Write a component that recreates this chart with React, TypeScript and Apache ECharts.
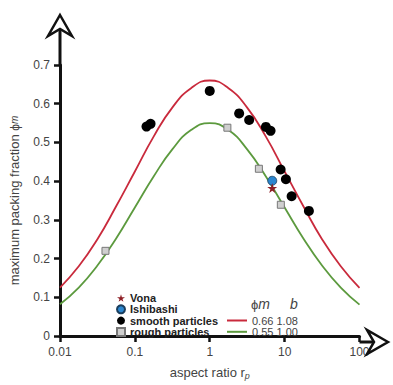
import React, { useEffect, useRef } from "react";
import * as echarts from "echarts";

// Measured maximum packing fraction against aspect ratio
const smoothParticles: [number, number][] = [
  [0.143, 0.541], [0.162, 0.548], [1.0, 0.633], [2.47, 0.575], [3.36, 0.558],
  [5.62, 0.54], [6.49, 0.53], [8.84, 0.43], [10.4, 0.405], [12.4, 0.361], [21.1, 0.323],
];
const roughParticles: [number, number][] = [
  [0.0405, 0.22], [1.72, 0.538], [4.53, 0.432], [8.9, 0.339],
];
const ishibashi: [number, number][] = [[6.83, 0.401]];
const vona: [number, number][] = [[6.83, 0.382]];

// Fitted curves sampled along the aspect ratio (quarter decades)
const fitRatios = [
  0.01, 0.0178, 0.0316, 0.0562, 0.1, 0.178, 0.316, 0.562, 1,
  1.78, 3.16, 5.62, 10, 17.8, 31.6, 56.2, 100,
];
const smoothFit = [
  0.125, 0.18, 0.25, 0.335, 0.425, 0.515, 0.59, 0.64, 0.66,
  0.64, 0.59, 0.515, 0.425, 0.335, 0.25, 0.18, 0.124,
];
const roughFit = [
  0.082, 0.125, 0.182, 0.252, 0.332, 0.412, 0.482, 0.532, 0.55,
  0.532, 0.482, 0.412, 0.332, 0.252, 0.182, 0.125, 0.081,
];
const fitParams: Record<string, string> = {
  "smooth fit": "0.66 1.08",
  "rough fit": "0.55 1.00",
};

const xTickLabels = ["0.01", "0.1", "1", "10", "100"];

// Plot frame in pixels
const LEFT = 60;
const RIGHT = 359.5;
const TOP = 65;
const BOTTOM = 342;
const W = 393;
const H = 385;

const RED = "#c92a3c";
const GREEN = "#5c9a3e";
const INK = "#111";
const LABEL = "#444";

export default function App() {
  const ref = useRef<HTMLDivElement>(null);

  useEffect(() => {
    if (!ref.current) return;
    const chart = echarts.init(ref.current, undefined, { renderer: "svg" });

    const pair = (xs: number[], ys: number[]) => xs.map((x, i) => [x, ys[i]]);

    chart.setOption({
      animation: false,
      backgroundColor: "#fff",
      textStyle: { fontFamily: "Liberation Sans, Arial, sans-serif" },
      grid: { left: LEFT, right: W - RIGHT, top: TOP, bottom: H - BOTTOM },
      xAxis: {
        type: "log",
        logBase: 10,
        min: 0.01,
        max: 100,
        name: "{t|aspect ratio r}{s|p}",
        nameLocation: "middle",
        nameGap: 29,
        nameTextStyle: {
          rich: {
            t: { fontSize: 13, color: LABEL },
            s: { fontSize: 9, color: LABEL, fontStyle: "italic", padding: [6, 0, 0, 0] },
          },
        },
        axisLine: { lineStyle: { color: INK, width: 3 } },
        axisTick: { length: 6, lineStyle: { color: INK, width: 2.5 } },
        axisLabel: {
          color: LABEL,
          fontSize: 12,
          margin: 10,
          formatter: (v: number) => {
            const s = String(Number(v.toPrecision(3)));
            return xTickLabels.includes(s) ? s : "";
          },
        },
        splitLine: { show: false },
        minorTick: { show: false },
      },
      yAxis: {
        type: "value",
        min: 0,
        max: 0.7,
        interval: 0.1,
        name: "{t|maximum packing fraction }{p|ϕ}{s|m}",
        nameLocation: "middle",
        nameGap: 39,
        nameRotate: 90,
        nameTextStyle: {
          rich: {
            t: { fontSize: 13, color: LABEL },
            p: { fontSize: 12, color: LABEL },
            s: { fontSize: 10, color: LABEL, fontStyle: "italic" },
          },
        },
        axisLine: { lineStyle: { color: INK, width: 3 } },
        axisTick: { length: 6, lineStyle: { color: INK, width: 2.5 } },
        axisLabel: {
          color: LABEL,
          fontSize: 12,
          margin: 10,
          formatter: (v: number) => (v === 0 ? "0" : v.toFixed(1)),
        },
        splitLine: { show: false },
      },
      legend: [
        {
          orient: "vertical",
          left: 116,
          top: 292.5,
          itemGap: 0.3,
          itemWidth: 8,
          itemHeight: 8,
          padding: 0,
          data: ["Vona", "Ishibashi", "smooth particles", "rough particles"],
          textStyle: { fontSize: 11, fontWeight: "bold", color: "#222", lineHeight: 11 },
        },
        {
          orient: "vertical",
          left: 227,
          top: 315,
          itemGap: 0.3,
          itemWidth: 20,
          itemHeight: 2,
          icon: "rect",
          padding: 0,
          data: ["smooth fit", "rough fit"],
          formatter: (name: string) => fitParams[name],
          textStyle: { fontSize: 11, color: LABEL, lineHeight: 11 },
        },
      ],
      series: [
        {
          name: "smooth fit",
          type: "line",
          data: pair(fitRatios, smoothFit),
          smooth: true,
          showSymbol: false,
          lineStyle: { color: RED, width: 1.8 },
          itemStyle: { color: RED },
          z: 2,
        },
        {
          name: "rough fit",
          type: "line",
          data: pair(fitRatios, roughFit),
          smooth: true,
          showSymbol: false,
          lineStyle: { color: GREEN, width: 1.8 },
          itemStyle: { color: GREEN },
          z: 2,
        },
        {
          name: "smooth particles",
          type: "scatter",
          data: smoothParticles,
          symbol: "circle",
          symbolSize: 10,
          itemStyle: { color: "#000", opacity: 1 },
          z: 3,
        },
        {
          name: "rough particles",
          type: "scatter",
          data: roughParticles,
          symbol: "rect",
          symbolSize: 7,
          itemStyle: { color: "#cfcfcf", borderColor: "#777", borderWidth: 1, opacity: 1 },
          z: 3,
        },
        {
          name: "Ishibashi",
          type: "scatter",
          data: ishibashi,
          symbol: "circle",
          symbolSize: 9,
          itemStyle: { color: "#2b86cf", borderColor: "#1a3d5c", borderWidth: 0.8, opacity: 1 },
          z: 4,
        },
        {
          name: "Vona",
          type: "scatter",
          data: vona,
          symbol:
            "path://M50,0 L61,35 L98,35 L68,57 L79,91 L50,70 L21,91 L32,57 L2,35 L39,35 Z",
          symbolSize: 10,
          itemStyle: { color: "#8e1f25", opacity: 1 },
          z: 4,
        },
      ],
      graphic: [
        // axis extensions up to the open arrowheads
        {
          type: "line",
          shape: { x1: RIGHT, y1: BOTTOM, x2: 374, y2: BOTTOM },
          style: { stroke: INK, lineWidth: 3 },
          z: 10,
        },
        {
          type: "line",
          shape: { x1: LEFT, y1: TOP, x2: LEFT, y2: 29 },
          style: { stroke: INK, lineWidth: 3 },
          z: 10,
        },
        {
          type: "polygon",
          shape: { points: [[388, BOTTOM], [367, 330], [374, BOTTOM], [367, 354]] },
          style: { fill: "none", stroke: INK, lineWidth: 2.5, lineJoin: "miter" },
          z: 11,
        },
        {
          type: "polygon",
          shape: { points: [[LEFT, 15], [72, 36], [LEFT, 29], [48, 36]] },
          style: { fill: "none", stroke: INK, lineWidth: 2.5, lineJoin: "miter" },
          z: 11,
        },
        // header of the fit parameter columns
        {
          type: "text",
          x: 251,
          y: 304,
          style: {
            text: "{p|ϕ}{m|m}",
            rich: {
              p: { fontSize: 13, fill: LABEL },
              m: { fontSize: 14, fontStyle: "italic", fill: LABEL },
            },
            verticalAlign: "middle",
          },
          z: 10,
        },
        {
          type: "text",
          x: 290,
          y: 304,
          style: {
            text: "b",
            fontSize: 14,
            fontStyle: "italic",
            fill: LABEL,
            verticalAlign: "middle",
          },
          z: 10,
        },
      ],
    });

    return () => chart.dispose();
  }, []);

  return (
    <div
      ref={ref}
      style={{ position: "fixed", left: 0, top: 0, width: W, height: H }}
    />
  );
}
